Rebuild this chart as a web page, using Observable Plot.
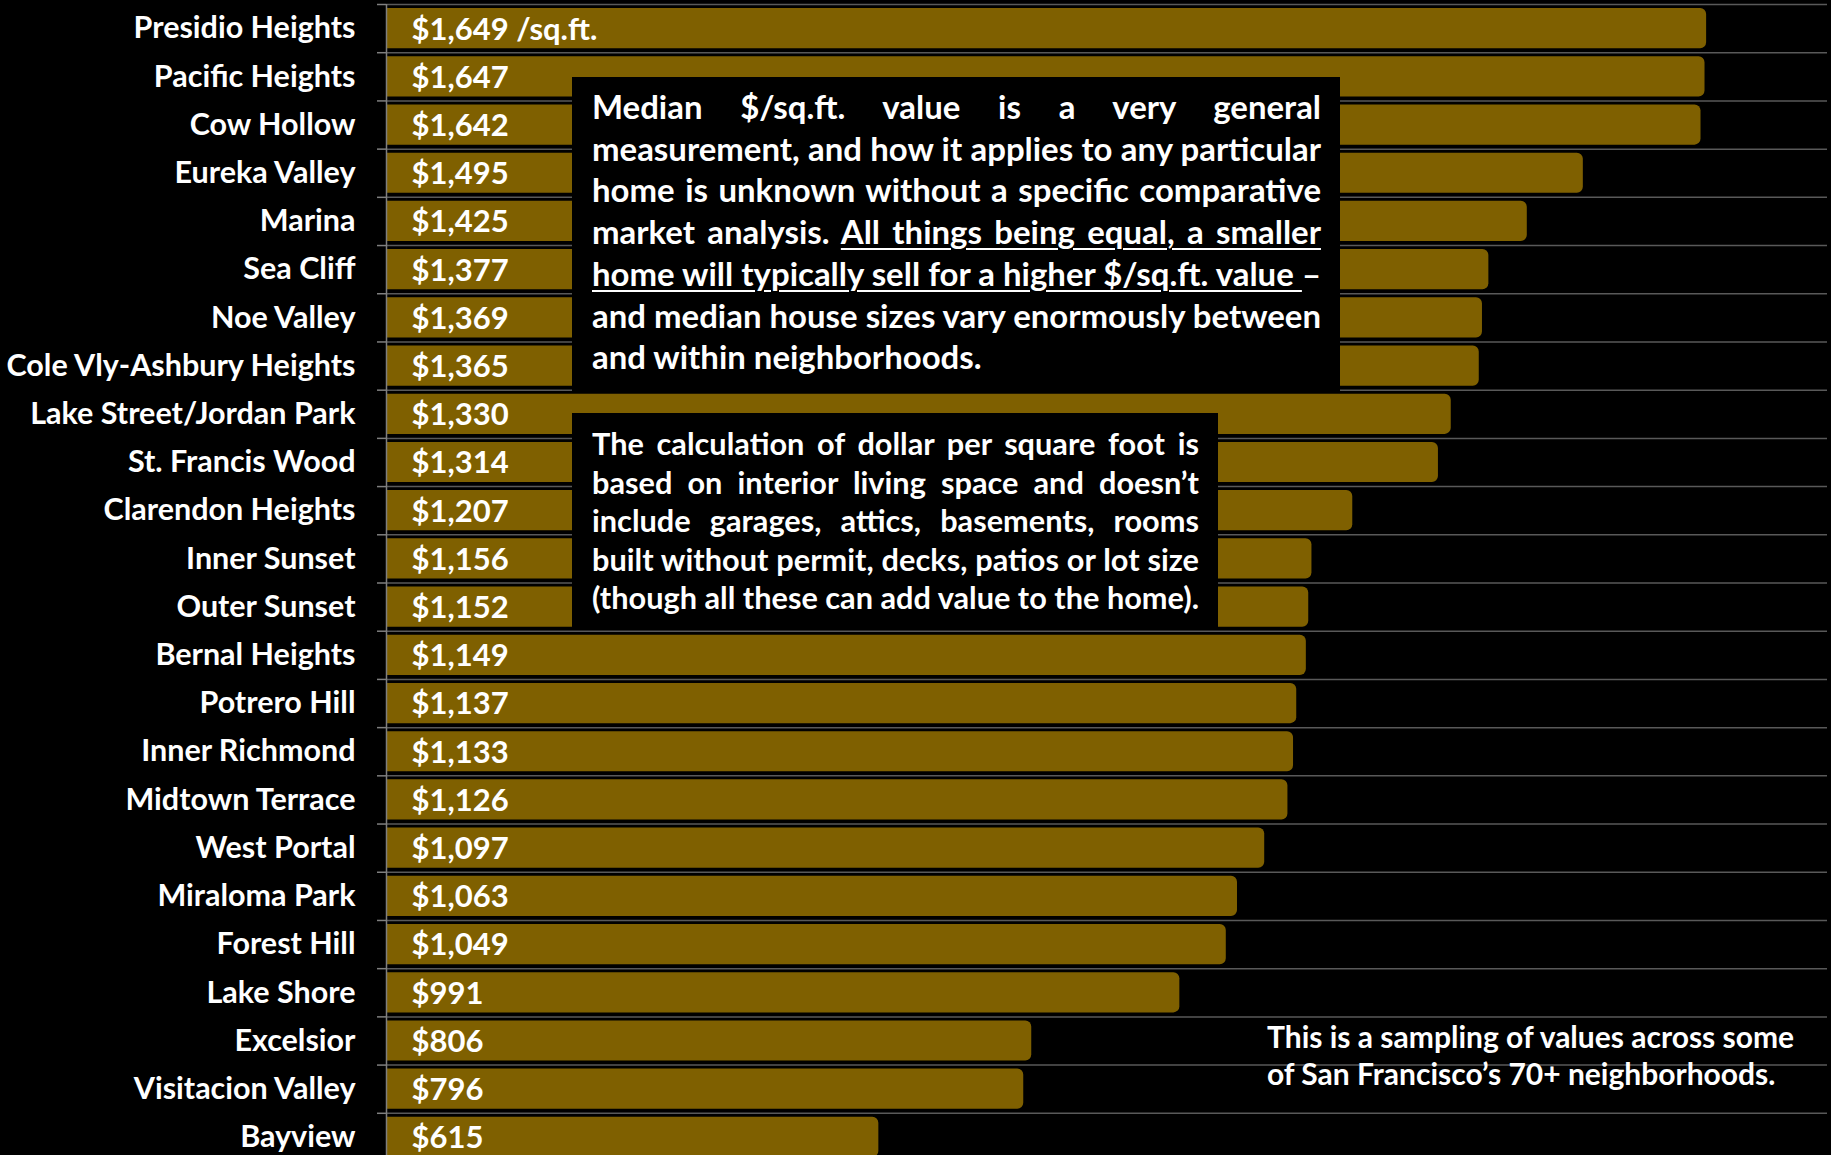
<!DOCTYPE html>
<html>
<head>
<meta charset="utf-8">
<script src="https://cdn.jsdelivr.net/npm/d3@7"></script>
<script src="https://cdn.jsdelivr.net/npm/@observablehq/plot@0.6"></script>
<style>
  html, body { margin: 0; padding: 0; background: #000; overflow: hidden; }
  #wrap { position: relative; width: 1831px; height: 1155px; overflow: hidden; background: #000; }
  .note { position: absolute; background: #000; color: #fff; font-family: Lato, "Open Sans", sans-serif; font-weight: 700; box-sizing: border-box; }
  .note .ln { white-space: nowrap; }
  .note .ln span { white-space: nowrap; }
  .note u { text-decoration-thickness: 2px; text-underline-offset: 4px; }
  #n1 { left: 572px; top: 77px; width: 768px; height: 314px; padding: 9px 19px 0 20px; font-size: 32px; line-height: 41.7px; }
  #n2 { left: 572px; top: 413px; width: 646px; height: 215px; padding: 12px 19px 0 20px; font-size: 30px; line-height: 38.5px; }
  #n3 { left: 1267px; top: 1018px; background: transparent; font-size: 30px; line-height: 37.4px; }
</style>
</head>
<body>
<div id="wrap"></div>
<script>
// ---- data ----
const neighborhoods = [
  "Presidio Heights", "Pacific Heights", "Cow Hollow", "Eureka Valley", "Marina",
  "Sea Cliff", "Noe Valley", "Cole Vly-Ashbury Heights", "Lake Street/Jordan Park",
  "St. Francis Wood", "Clarendon Heights", "Inner Sunset", "Outer Sunset",
  "Bernal Heights", "Potrero Hill", "Inner Richmond", "Midtown Terrace",
  "West Portal", "Miraloma Park", "Forest Hill", "Lake Shore", "Excelsior",
  "Visitacion Valley", "Bayview"
];
const pricePerSqFt = [
  1649, 1647, 1642, 1495, 1425, 1377, 1369, 1365, 1330, 1314, 1207, 1156, 1152,
  1149, 1137, 1133, 1126, 1097, 1063, 1049, 991, 806, 796, 615
];
const valueSuffix = [" /sq.ft."];          // appended to the first bar label only
const xDomain = [0, 1800];

// ---- annotation texts (line by line as in the original) ----
const note1Lines = [
  "Median $/sq.ft. value is a very general",
  "measurement, and how it applies to any particular",
  "home is unknown without a specific comparative",
  "market analysis. <u>All things being equal, a smaller</u>",
  "<u>home will typically sell for a higher $/sq.ft. value </u>–",
  "and median house sizes vary enormously between",
  "and within neighborhoods."
];
const note2Lines = [
  "The calculation of dollar per square foot is",
  "based on interior living space and doesn’t",
  "include garages, attics, basements, rooms",
  "built without permit, decks, patios or lot size",
  "(though all these can add value to the home)."
];
const note3Lines = [
  "This is a sampling of values across some",
  "of San Francisco’s 70+ neighborhoods."
];

// ---- build ----
const rows = neighborhoods.map((name, i) => ({
  i, name, value: pricePerSqFt[i],
  label: "$" + d3.format(",")(pricePerSqFt[i]) + (i === 0 ? valueSuffix[0] : "")
}));
const rowIndex = rows.map(d => d.i);
const boundaries = d3.range(rows.length + 1).map(k => k - 0.5);

const FONT = "Lato, 'Open Sans', sans-serif";
const GRID = "#595959";

const chart = Plot.plot({
  width: 1831,
  height: 1161,
  marginLeft: 386,
  marginRight: 4,
  marginTop: 4,
  marginBottom: 0,
  style: { background: "#000", color: "#fff", fontFamily: FONT, fontWeight: 700, overflow: "visible" },
  x: { domain: xDomain, axis: null },
  y: { domain: [-0.5, rows.length - 0.5], reverse: true, label: null },
  marks: [
    Plot.ruleY(boundaries, { stroke: GRID, strokeWidth: 1.5 }),
    Plot.axisY(boundaries, { tickSize: 9, tickFormat: () => "", stroke: "#7f7f7f", strokeWidth: 1.5, label: null }),
    Plot.rectX(rows, {
      x: "value",
      y1: d => d.i - 0.5,
      y2: d => d.i + 0.5,
      insetTop: 4,
      insetBottom: 4,
      fill: "#7F6000",
      rx2: 6
    }),
    Plot.ruleX([0], { stroke: "#7f7f7f", strokeWidth: 1.5 }),
    Plot.axisY(rowIndex, {
      tickSize: 0,
      tickPadding: 31,
      tickFormat: i => neighborhoods[i],
      fontSize: 30.5,
      fontWeight: 700,
      fill: "#fff",
      label: null
    }),
    Plot.text(rows, {
      x: 0, y: "i", text: "label",
      textAnchor: "start", dx: 25, dy: 1,
      fill: "#fff", fontSize: 31, fontWeight: 700, fontFamily: FONT
    })
  ]
});

const wrap = document.getElementById("wrap");
wrap.appendChild(chart);

function addNote(id, lines) {
  const div = document.createElement("div");
  div.className = "note";
  div.id = id;
  lines.forEach(t => {
    const ln = document.createElement("div");
    ln.className = "ln";
    const sp = document.createElement("span");
    sp.innerHTML = t;
    ln.appendChild(sp);
    div.appendChild(ln);
  });
  wrap.appendChild(div);
  return div;
}
const n1 = addNote("n1", note1Lines);
const n2 = addNote("n2", note2Lines);
const n3 = addNote("n3", note3Lines);

// Fit font size to the longest line, then justify every line by word spacing
function fitJustify(div, avail, leftLast) {
  const spans = [...div.querySelectorAll(".ln span")];
  spans.forEach(s => s.style.wordSpacing = "0px");
  div.style.fontSize = "";
  const base = parseFloat(getComputedStyle(div).fontSize);
  const maxW = d3.max(spans, s => s.getBoundingClientRect().width);
  div.style.fontSize = (base * avail / maxW).toFixed(2) + "px";
  spans.forEach((s, k) => {
    if (leftLast && k === spans.length - 1) return;
    const w = s.getBoundingClientRect().width;
    const n = (s.textContent.match(/ /g) || []).length;
    if (n > 0) s.style.wordSpacing = ((avail - w) / n).toFixed(2) + "px";
  });
}
function layoutNotes() {
  fitJustify(n1, 729, true);
  fitJustify(n2, 607, false);
}
layoutNotes();
if (document.fonts && document.fonts.ready) document.fonts.ready.then(layoutNotes);
</script>
</body>
</html>
